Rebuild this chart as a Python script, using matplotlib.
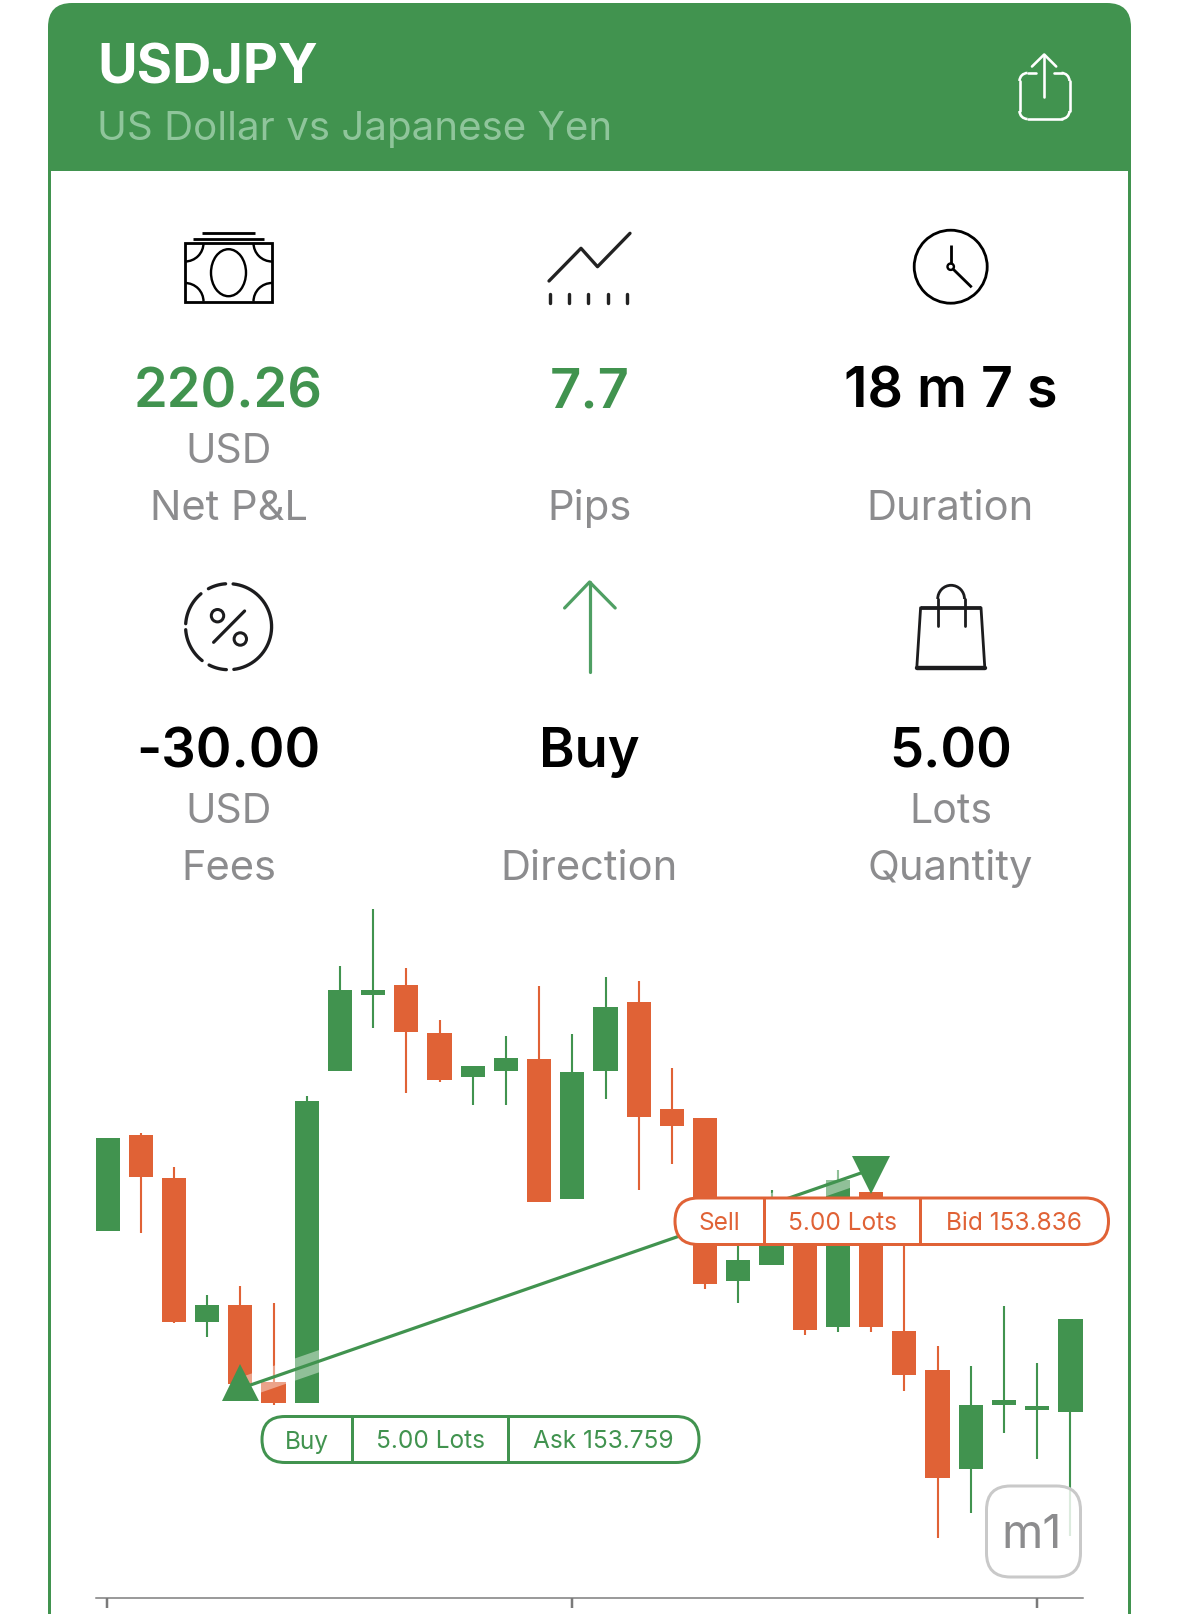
#!/usr/bin/env python3
"""Trade detail card for USDJPY: header, six stats and an m1 candlestick chart."""

import matplotlib
matplotlib.use("Agg")
import matplotlib.pyplot as plt
from matplotlib.patches import Arc, Circle, Ellipse, FancyBboxPatch, Rectangle
import numpy as np

W, H = 1179, 1614
DPI = 100
PX = 72 / DPI  # one pixel in points

GREEN = "#41934f"
ORANGE = "#e06236"
GREY = "#8c8c8e"
INK = "#1c1c1e"
FONT = "Inter"

# ── Data ───────────────────────────────────────────────────────────────────────
opens = [153.8149, 153.8498, 153.8342, 153.7819, 153.7881, 153.7601, 153.7525, 153.8731,
         153.9007, 153.9043, 153.8869, 153.8709, 153.8731, 153.8776, 153.8266, 153.8731,
         153.8981, 153.8593, 153.8560, 153.7966, 153.8026, 153.8244, 153.7801, 153.8291,
         153.7786, 153.7644, 153.7285, 153.7519, 153.7499, 153.7492]
highs = [153.8487, 153.8505, 153.8382, 153.7917, 153.7950, 153.7888, 153.8640, 153.9112,
         153.9319, 153.9105, 153.8916, 153.8749, 153.8858, 153.9039, 153.8865, 153.9072,
         153.9057, 153.8741, 153.8560, 153.8171, 153.8298, 153.8244, 153.8371, 153.8291,
         153.8244, 153.7732, 153.7659, 153.7877, 153.7670, 153.7830]
lows = [153.8149, 153.8142, 153.7815, 153.7764, 153.7586, 153.7517, 153.7525, 153.8731,
        153.8887, 153.8651, 153.8691, 153.8607, 153.8607, 153.8253, 153.8266, 153.8629,
        153.8300, 153.8393, 153.7939, 153.7888, 153.8026, 153.7772, 153.7783, 153.7783,
        153.7568, 153.7034, 153.7125, 153.7416, 153.7321, 153.7042]
closes = [153.8487, 153.8346, 153.7819, 153.7881, 153.7594, 153.7525, 153.8622, 153.9025,
          153.9025, 153.8872, 153.8698, 153.8749, 153.8778, 153.8253, 153.8727, 153.8963,
          153.8563, 153.8531, 153.7957, 153.8044, 153.8171, 153.7790, 153.8335, 153.7801,
          153.7626, 153.7252, 153.7519, 153.7534, 153.7514, 153.7830]

trade_x = [4, 23]
trade_line = [153.7577, 153.8373]
trade_markers = [153.7601, 153.8353]
tick_positions = [0, 14, 28]

stat_values = ["220.26", "7.7", "18 m 7 s", "-30.00", "Buy", "5.00"]
stat_units = ["USD", "", "", "USD", "", "Lots"]
stat_names = ["Net P&L", "Pips", "Duration", "Fees", "Direction", "Quantity"]
stat_colors = [GREEN, GREEN, "black", "black", "black", "black"]

buy_labels = ["Buy", "5.00 Lots", "Ask 153.759"]
sell_labels = ["Sell", "5.00 Lots", "Bid 153.836"]

# ── Canvas ─────────────────────────────────────────────────────────────────────
fig = plt.figure(figsize=(W / DPI, H / DPI), dpi=DPI, facecolor="white")

bg = fig.add_axes([0, 0, 1, 1], zorder=0)
bg.set_xlim(0, W)
bg.set_ylim(H, 0)
bg.axis("off")

top = fig.add_axes([0, 0, 1, 1], zorder=3)
top.set_xlim(0, W)
top.set_ylim(H, 0)
top.axis("off")


def line(ax, xs, ys, color=INK, lw=2.6, cap="round", **kw):
    ax.plot(xs, ys, color=color, lw=lw * PX, solid_capstyle=cap, solid_joinstyle="round", **kw)


# ── Header and card border ─────────────────────────────────────────────────────
bg.add_patch(FancyBboxPatch((48, 3), 1083, 120, boxstyle="round,pad=0,rounding_size=24",
                            fc=GREEN, ec="none"))
bg.add_patch(Rectangle((48, 60), 1083, 111, fc=GREEN, ec="none"))
bg.add_patch(Rectangle((48, 171), 3, H - 171, fc=GREEN, ec="none"))
bg.add_patch(Rectangle((1128, 171), 3, H - 171, fc=GREEN, ec="none"))

bg.text(97, 69, "USDJPY", color="white", fontsize=39, fontweight="bold", family=FONT,
        ha="left", va="center")
bg.text(97, 129, "US Dollar vs Japanese Yen", color="#8fc59b", fontsize=29, family=FONT,
        ha="left", va="center")

# share icon
SX = -1.5
for cx, cy, t1, t2 in [(1029, 81, 180, 270), (1063, 81, 270, 360),
                       (1029, 111, 90, 180), (1063, 111, 0, 90)]:
    bg.add_patch(Arc((cx + SX, cy), 16, 16, theta1=t1, theta2=t2, color="white", lw=2.6 * PX))
line(bg, [1021 + SX, 1021 + SX], [81, 111], "white")
line(bg, [1071 + SX, 1071 + SX], [81, 111], "white")
line(bg, [1029 + SX, 1063 + SX], [119, 119], "white")
line(bg, [1029 + SX, 1037 + SX], [73, 73], "white")
line(bg, [1055 + SX, 1063 + SX], [73, 73], "white")
line(bg, [1045.7 + SX, 1045.7 + SX], [55, 96.5], "white")
line(bg, [1033.5 + SX, 1045.7 + SX, 1057.7 + SX], [66.5, 54.5, 66.5], "white")

# ── Stats ──────────────────────────────────────────────────────────────────────
col_x = [228.6, 589.5, 950.5]
row_y = [(393, 452, 509), (753, 812, 869)]
for i, (val, unit, name, col) in enumerate(zip(stat_values, stat_units, stat_names, stat_colors)):
    x = col_x[i % 3]
    y0, y1, y2 = row_y[i // 3]
    bg.text(x, y0, val, color=col, fontsize=40 if i == 2 else 39, fontweight="semibold",
            family=FONT, ha="center", va="center")
    if unit:
        bg.text(x, y1, unit, color=GREY, fontsize=29.5, family=FONT, ha="center", va="center")
    bg.text(x, y2, name, color=GREY, fontsize=30, family=FONT, ha="center", va="center")

# banknote icon
bg.add_patch(Rectangle((185, 243), 87, 58.5, fc="none", ec="black", lw=2.8 * PX))
line(bg, [202, 255], [232.7, 232.7], "black", 2.8, cap="butt")
line(bg, [193, 264], [238.5, 238.5], "black", 2.8, cap="butt")
bg.add_patch(Ellipse((228.5, 272.7), 35, 47, fc="none", ec="black", lw=2.4 * PX))
for cx, cy, t1, t2 in [(185, 243, 0, 90), (272, 243, 90, 180),
                       (185, 301.5, 270, 360), (272, 301.5, 180, 270)]:
    bg.add_patch(Arc((cx, cy), 37, 37, theta1=t1, theta2=t2, color="black", lw=2.4 * PX))

# pips icon
line(bg, [549, 581, 597.5, 630], [281, 248.3, 266.7, 233.3], "#222222", 3.3)
for tx in [549.5, 568.5, 588, 607.5, 627]:
    line(bg, [tx, tx], [294, 303], "#222222", 3.4)

# clock icon
bg.add_patch(Circle((950.7, 266.7), 36.5, fc="none", ec="black", lw=2.8 * PX))
bg.add_patch(Circle((950.7, 266.7), 3.2, fc="none", ec="black", lw=2.4 * PX))
line(bg, [950.7, 950.7], [245, 263.5], "black", 2.8, cap="butt")
line(bg, [953, 971.7], [269, 287.3], "black", 2.8, cap="butt")

# percent icon
for a0, a1 in [(-83, 84), (94, 118), (130, 176), (184, 232), (243, 267)]:
    t = np.radians(np.linspace(a0, a1, 40))
    line(bg, 228.6 + 43 * np.cos(t), 626.7 - 43 * np.sin(t), INK, 3.3)
line(bg, [244.6, 213.6], [611, 642.3], INK, 3.2)
bg.add_patch(Circle((217.5, 615.7), 6.2, fc="none", ec=INK, lw=3 * PX))
bg.add_patch(Circle((240.3, 639), 6.2, fc="none", ec=INK, lw=3 * PX))

# direction arrow
line(bg, [589.6, 589.6], [582, 672], "#4f9f63", 3.2)
line(bg, [564.6, 589.6, 615.2], [608, 582, 608], "#4f9f63", 3.2)

# bag icon
line(bg, [920.6, 916.8], [607.7, 667.7], INK, 2.8)
line(bg, [981, 984.8], [607.7, 667.7], INK, 2.8)
line(bg, [920.6, 981], [607.7, 607.7], INK, 3.8, cap="butt")
line(bg, [916.8, 984.8], [667.7, 667.7], INK, 4.4)
line(bg, [937.7, 937.7], [599, 625.7], INK, 2.8)
line(bg, [964.5, 964.5], [599, 625.7], INK, 2.8)
bg.add_patch(Arc((951.1, 599), 26.8, 27.4, theta1=180, theta2=360, color=INK, lw=2.8 * PX))

# ── Candlestick chart ──────────────────────────────────────────────────────────
ax_left, ax_right, ax_top, ax_bottom = 96, 1083, 900, 1598
ax = fig.add_axes([ax_left / W, 1 - ax_bottom / H, (ax_right - ax_left) / W,
                   (ax_bottom - ax_top) / H], zorder=1)
ax.patch.set_alpha(0)
ax.set_xlim(-0.346, 29.38)
ax.set_ylim(153.6816, 153.9352)

o, h, l, c = map(np.array, (opens, highs, lows, closes))
x = np.arange(len(o))
colors = [GREEN if up else ORANGE for up in c >= o]
ax.vlines(x, l, h, colors=colors, lw=2.1 * PX, zorder=2)
ax.bar(x, np.abs(c - o), bottom=np.minimum(o, c), width=0.73, color=colors, zorder=2)

ax.plot(trade_x, trade_line, color="white", alpha=0.42, lw=21 * PX, solid_capstyle="butt", zorder=3)
ax.plot(trade_x, trade_line, color=GREEN, lw=3.2 * PX, solid_capstyle="butt", zorder=4)
ax.plot(trade_x[0], trade_markers[0], marker="^", ms=37 * PX, color=GREEN, mew=0, zorder=5)
ax.plot(trade_x[1], trade_markers[1], marker="v", ms=38 * PX, color=GREEN, mew=0, zorder=5)

for side in ("top", "left", "right"):
    ax.spines[side].set_visible(False)
ax.spines["bottom"].set_color("#7a7a7a")
ax.spines["bottom"].set_linewidth(1.5 * PX)
ax.set_yticks([])
ax.set_xticks(tick_positions)
ax.set_xticklabels([])
ax.tick_params(axis="x", length=10 * PX, width=2.5 * PX, color="#7a7a7a")


# ── Order pills and timeframe button ───────────────────────────────────────────
def pill(x0, x1, y0, y1, dividers, labels, centers, color):
    top.add_patch(FancyBboxPatch((x0, y0), x1 - x0, y1 - y0,
                                 boxstyle=f"round,pad=0,rounding_size={(y1 - y0) / 2}",
                                 fc="white", ec=color, lw=3 * PX))
    for d in dividers:
        line(top, [d, d], [y0, y1], color, 3, cap="butt")
    for text, cx in zip(labels, centers):
        top.text(cx, (y0 + y1) / 2 + 2.5, text, color=color, fontsize=17.6, family=FONT,
                 ha="center", va="center")


pill(262, 699, 1416.5, 1462.5, [351.5, 507.6], buy_labels, [307, 430, 603.5], GREEN)
pill(675, 1108.5, 1198, 1244.5, [763.5, 919.5], sell_labels, [719, 842, 1013.5], ORANGE)

top.add_patch(FancyBboxPatch((986.5, 1486), 94, 91, boxstyle="round,pad=0,rounding_size=24",
                             fc=(1, 1, 1, 0.82), ec="#c9c9c9", lw=3 * PX))
top.text(1032, 1536, "m1", color=GREY, fontsize=34, family=FONT, ha="center", va="center")

fig.savefig("out.png", dpi=DPI)
